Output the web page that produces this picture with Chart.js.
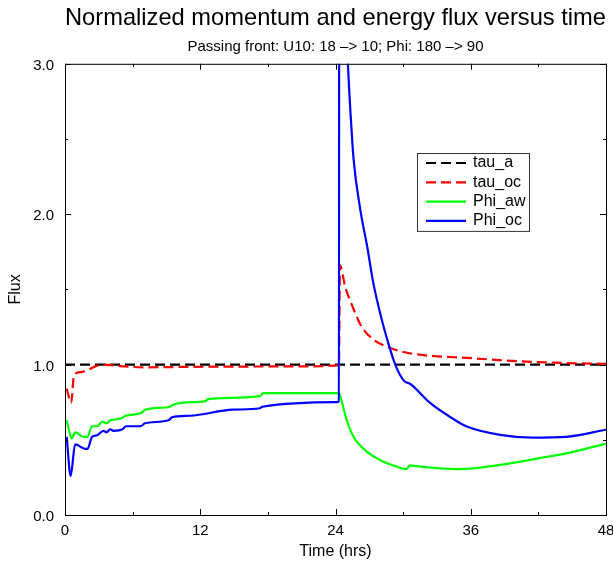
<!DOCTYPE html>
<html>
<head>
<meta charset="utf-8">
<title>Normalized momentum and energy flux</title>
<script src="https://cdn.jsdelivr.net/npm/chart.js@4.4.0/dist/chart.umd.min.js"></script>
<style>
    html, body { margin: 0; padding: 0; background: #fff; }
</style>
</head>
<body>
<canvas id="fluxChart" width="613" height="563"></canvas>
<script>
// values (time in hrs, flux normalized)
const tauATime = [0, 48];
const tauAVals = [1.0, 1.0];

const tauOcTime = [0.15, 0.55, 0.8, 1.4, 2.1, 2.85, 3.4, 4.9, 7.0, 11, 16, 20, 24.3, 24.4, 24.85, 25.6, 26.3, 27.35, 28.5, 29.7, 31, 33, 35.6, 38.5, 41.5, 44.5, 48];
const tauOcVals = [0.84, 0.745, 0.93, 0.95, 0.967, 0.993, 1.0, 0.99, 0.982, 0.985, 0.987, 0.988, 0.995, 1.66, 1.52, 1.37, 1.255, 1.167, 1.12, 1.09, 1.07, 1.055, 1.045, 1.03, 1.018, 1.01, 1.005];

const phiAwTime = [0.15, 0.6, 0.9, 1.65, 2.0, 2.4, 2.85, 3.3, 3.7, 4.0, 4.9, 5.4, 6.8, 7.1, 9.3, 9.5, 11.1, 12.4, 12.7, 17.3, 17.6, 24.3, 24.55, 25.0, 25.6, 26.8, 27.5, 28.2, 29.2, 30.3, 30.6, 30.9, 33, 35.0, 38.6, 42.1, 45.1, 48];
const phiAwVals = [0.63, 0.51, 0.55, 0.52, 0.52, 0.59, 0.59, 0.62, 0.61, 0.63, 0.64, 0.66, 0.68, 0.70, 0.72, 0.73, 0.75, 0.755, 0.77, 0.79, 0.81, 0.81, 0.755, 0.63, 0.52, 0.42, 0.385, 0.355, 0.328, 0.305, 0.33, 0.327, 0.312, 0.305, 0.333, 0.378, 0.42, 0.475];

const phiOcTime = [0.15, 0.5, 0.9, 1.8, 2.0, 2.4, 2.85, 3.4, 3.7, 4.0, 4.3, 5.1, 5.4, 6.7, 7.1, 9.2, 9.5, 11.1, 14.9, 17.3, 17.5, 24.1, 24.3, 24.35, 24.6, 24.85, 25.1, 25.35, 25.6, 26.2, 26.8, 27.35, 27.95, 28.5, 29.3, 30.1, 30.6, 30.9, 32.4, 34.1, 35.6, 38.6, 41.5, 44.5, 48];
const phiOcVals = [0.52, 0.26, 0.47, 0.44, 0.44, 0.52, 0.53, 0.56, 0.55, 0.57, 0.56, 0.57, 0.59, 0.59, 0.61, 0.63, 0.65, 0.66, 0.70, 0.71, 0.72, 0.75, 0.755, 6.0, 4.2, 3.5, 3.0, 2.65, 2.37, 2.03, 1.79, 1.545, 1.345, 1.19, 1.0, 0.89, 0.873, 0.855, 0.745, 0.655, 0.59, 0.533, 0.515, 0.52, 0.567];

const seriesNames = ['tau_a', 'tau_oc', 'Phi_aw', 'Phi_oc'];
const lineWidth = 2.2;

function pts(t, v){
    return t.map(function(x, i){
        return {x: x, y: v[i]};
    });
}

// inward ticks + box frame like the original plot
const frameTicks = {
    id: 'frameTicks',
    afterDatasetsDraw: function(chart){
        const ctx = chart.ctx;
        const a = chart.chartArea;
        const xs = chart.scales.x;
        const ys = chart.scales.y;
        const major = 6, minor = 3;
        ctx.save();
        ctx.strokeStyle = '#000';
        ctx.lineWidth = 1;
        ctx.setLineDash([]);
        ctx.strokeRect(a.left + 0.5, a.top + 0.5, a.right - a.left, a.bottom - a.top);
        ctx.beginPath();
        xs.ticks.forEach(function(t, i){
            const px = Math.round(xs.getPixelForValue(t.value)) + 0.5;
            ctx.moveTo(px, a.bottom); ctx.lineTo(px, a.bottom - major);
            ctx.moveTo(px, a.top); ctx.lineTo(px, a.top + major);
            if(i < xs.ticks.length - 1){
                const m = Math.round(xs.getPixelForValue((t.value + xs.ticks[i + 1].value) / 2)) + 0.5;
                ctx.moveTo(m, a.bottom); ctx.lineTo(m, a.bottom - minor);
                ctx.moveTo(m, a.top); ctx.lineTo(m, a.top + minor);
            }
        });
        ys.ticks.forEach(function(t, i){
            const py = Math.round(ys.getPixelForValue(t.value)) + 0.5;
            ctx.moveTo(a.left, py); ctx.lineTo(a.left + major, py);
            ctx.moveTo(a.right, py); ctx.lineTo(a.right - major, py);
            if(i < ys.ticks.length - 1){
                const m = Math.round(ys.getPixelForValue((t.value + ys.ticks[i + 1].value) / 2)) + 0.5;
                ctx.moveTo(a.left, m); ctx.lineTo(a.left + minor, m);
                ctx.moveTo(a.right, m); ctx.lineTo(a.right - minor, m);
            }
        });
        ctx.stroke();
        ctx.restore();
    }
};

// boxed legend sitting inside the plot
const boxLegend = {
    id: 'boxLegend',
    afterDraw: function(chart, args, opts){
        const ctx = chart.ctx;
        const ds = chart.data.datasets;
        const h = opts.padTop * 2 + opts.rowHeight * (ds.length - 1);
        ctx.save();
        ctx.fillStyle = '#fff';
        ctx.fillRect(opts.x, opts.y, opts.width, h);
        ctx.strokeStyle = '#333';
        ctx.lineWidth = 1;
        ctx.strokeRect(opts.x + 0.5, opts.y + 0.5, opts.width, h);
        ctx.font = opts.font;
        ctx.textBaseline = 'middle';
        ds.forEach(function(d, i){
            const cy = opts.y + opts.padTop + opts.rowHeight * i;
            ctx.setLineDash(d.borderDash || []);
            ctx.strokeStyle = d.borderColor;
            ctx.lineWidth = lineWidth;
            ctx.beginPath();
            ctx.moveTo(opts.x + 9, cy);
            ctx.lineTo(opts.x + 49, cy);
            ctx.stroke();
            ctx.setLineDash([]);
            ctx.fillStyle = '#000';
            ctx.fillText(d.label, opts.x + 56, cy);
        });
        ctx.restore();
    }
};

const fontFamily = '"Liberation Sans", Arial, Helvetica, sans-serif';

new Chart(document.getElementById('fluxChart'), {
    type: 'line',
    data: {
        datasets: [{
            label: seriesNames[0],
            data: pts(tauATime, tauAVals),
            borderColor: '#000000',
            borderDash: [10, 5],
            order: 4
        }, {
            label: seriesNames[1],
            data: pts(tauOcTime, tauOcVals),
            borderColor: '#ff0000',
            borderDash: [10, 5],
            order: 3
        }, {
            label: seriesNames[2],
            data: pts(phiAwTime, phiAwVals),
            borderColor: '#00ff00',
            order: 2
        }, {
            label: seriesNames[3],
            data: pts(phiOcTime, phiOcVals),
            borderColor: '#0000ff',
            order: 1
        }]
    },
    options: {
        responsive: false,
        animation: false,
        clip: 0,
        datasets: {
            line: {
                borderWidth: lineWidth,
                pointRadius: 0,
                cubicInterpolationMode: 'monotone',
                fill: false
            }
        },
        layout: {
            padding: {left: 0, right: 7, top: 0, bottom: 0}
        },
        scales: {
            x: {
                type: 'linear',
                min: 0,
                max: 48,
                grid: {display: false, drawTicks: false},
                border: {display: false},
                ticks: {
                    stepSize: 12,
                    padding: 7,
                    color: '#000',
                    maxRotation: 0,
                    font: {family: fontFamily, size: 15}
                },
                title: {
                    display: true,
                    text: 'Time (hrs)',
                    color: '#000',
                    padding: {top: 0, bottom: 2},
                    font: {family: fontFamily, size: 16}
                },
                afterFit: function(scale){
                    scale.height = 48;
                    scale.paddingLeft = 0;
                    scale.paddingRight = 0;
                }
            },
            y: {
                min: 0,
                max: 3,
                grid: {display: false, drawTicks: false},
                border: {display: false},
                ticks: {
                    stepSize: 1,
                    padding: 11,
                    labelOffset: 2,
                    color: '#000',
                    font: {family: fontFamily, size: 15},
                    callback: function(v){ return v.toFixed(1); }
                },
                title: {
                    display: true,
                    text: 'Flux',
                    color: '#000',
                    padding: {top: 6, bottom: 0},
                    font: {family: fontFamily, size: 16}
                },
                afterFit: function(scale){
                    scale.width = 65;
                    scale.paddingTop = 0;
                    scale.paddingBottom = 0;
                }
            }
        },
        plugins: {
            legend: {display: false},
            tooltip: {enabled: false},
            title: {
                display: true,
                fullSize: false,
                text: 'Normalized momentum and energy flux versus time',
                color: '#000',
                padding: {top: 4, bottom: 5},
                font: {family: fontFamily, size: 24, weight: 'normal'}
            },
            subtitle: {
                display: true,
                fullSize: false,
                text: 'Passing front: U10: 18 –> 10; Phi: 180 –> 90',
                color: '#000',
                padding: {top: 0, bottom: 8},
                font: {family: fontFamily, size: 15}
            },
            boxLegend: {
                x: 417,
                y: 153,
                width: 112,
                padTop: 10,
                rowHeight: 19.3,
                font: '16px ' + fontFamily
            }
        }
    },
    plugins: [frameTicks, boxLegend]
});
</script>
</body>
</html>
